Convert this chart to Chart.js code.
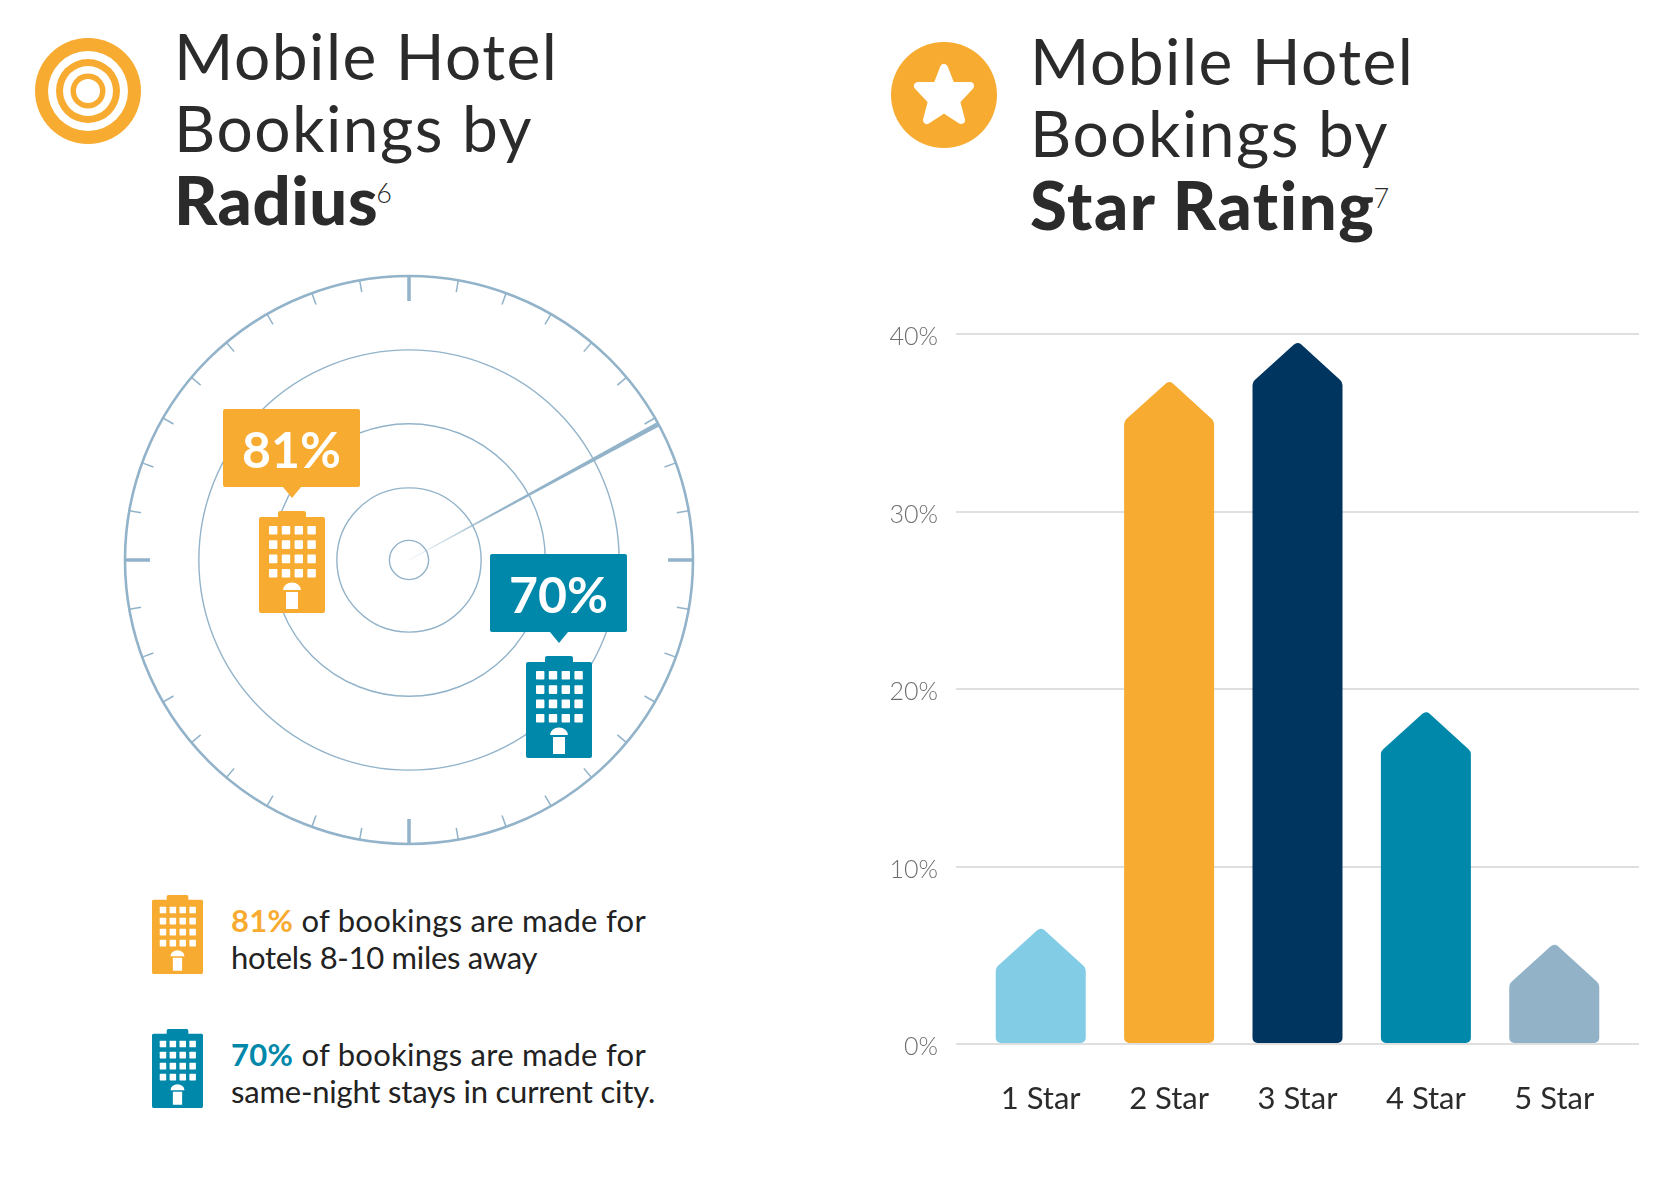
<!DOCTYPE html>
<html>
<head>
<meta charset="utf-8">
<title>Mobile Hotel Bookings</title>
<script src="https://cdn.jsdelivr.net/npm/chart.js@4"></script>
<style>
  html, body { margin: 0; background: #fff; }
  #page { position: relative; width: 1662px; height: 1192px; overflow: hidden; font-family: Lato, sans-serif; color: #2b2b2b; }
  #page > * { position: absolute; }
  .title { font-size: 64px; font-weight: 400; line-height: 72px; white-space: nowrap; letter-spacing: 1.5px; }
  .title b { font-size: 67px; font-weight: 900; letter-spacing: 1.2px; line-height: 0; position: relative; top: 1px; }
  .title b.tight { letter-spacing: 0.6px; }
  .title b.wide { letter-spacing: 1.6px; }
  .title sup { font-size: 27px; font-weight: 300; letter-spacing: 0; line-height: 0; vertical-align: baseline; position: relative; top: -21px; left: -2px; }
  .callout { width: 137px; height: 78px; border-radius: 2px; color: #fff; font-size: 50px; font-weight: 700; line-height: 81px; text-align: center; }
  .callout::after { content: ''; position: absolute; left: 50%; top: 100%; margin-left: -9px; border: 9px solid transparent; border-bottom-width: 0; border-top: 11px solid; border-top-color: inherit; }
  .orange { background: #f7ab31; border-color: #f7ab31; }
  .teal { background: #0088aa; border-color: #0088aa; }
  .note { font-size: 31px; font-weight: 400; line-height: 37px; white-space: nowrap; color: #222; }
  .note div { letter-spacing: 0.27px; }
  .note span { font-weight: 700; }
</style>
</head>
<body>
<div id="page">
  <svg width="0" height="0">
    <symbol id="hotel" viewBox="0 0 66 102">
      <path fill="currentColor" d="M21 0h24a2 2 0 0 1 2 2v4h17a2 2 0 0 1 2 2v92a2 2 0 0 1-2 2H2a2 2 0 0 1-2-2V8a2 2 0 0 1 2-2h17V2a2 2 0 0 1 2-2z"/>
      <g fill="#fff" id="hotelWindows"></g>
      <path fill="#fff" d="M24 79a9 7.5 0 0 1 18 0zM27 81h12v17H27z"/>
    </symbol>
  </svg>

  <svg style="left:34px;top:37px" width="108" height="108" viewBox="-54 -54 108 108">
    <circle r="53" fill="#f7ab31"/><circle r="40" fill="#fff"/><circle r="32" fill="#f7ab31"/>
    <circle r="25" fill="#fff"/><circle r="17.5" fill="#f7ab31"/><circle r="12" fill="#fff"/>
  </svg>
  <svg style="left:890px;top:41px" width="108" height="108" viewBox="-54 -54 108 108">
    <circle r="53" fill="#f7ab31"/>
    <polygon fill="#fff" stroke="#fff" stroke-width="8" stroke-linejoin="round"
      points="0,-27 7,-9 26,-9 12,6 17,25 0,14 -17,25 -12,6 -26,-9 -7,-9"/>
  </svg>

  <div class="title" style="left:174px;top:20px">Mobile Hotel<br>Bookings by<br><b class="tight">Radius</b><sup>6</sup></div>
  <div class="title" style="left:1030px;top:25px">Mobile Hotel<br>Bookings by<br><b class="wide">Star Rating</b><sup>7</sup></div>

  <canvas id="radiusChart" style="left:109px;top:260px;width:600px;height:600px"></canvas>
  <canvas id="starChart" style="left:880px;top:301px;width:782px;height:829px"></canvas>

  <div class="callout orange" style="left:223px;top:409px">81%</div>
  <svg style="left:259px;top:511px;color:#f7ab31" width="66" height="102"><use href="#hotel"/></svg>
  <div class="callout teal" style="left:490px;top:554px">70%</div>
  <svg style="left:526px;top:656px;color:#0088aa" width="66" height="102"><use href="#hotel"/></svg>

  <svg style="left:152px;top:895px;color:#f7ab31" width="51" height="79" viewBox="0 0 66 102"><use href="#hotel"/></svg>
  <div class="note" style="left:231px;top:902px">
    <div><span style="color:#f7ab31">81%</span> of bookings are made for</div>
    <div style="letter-spacing:-0.29px">hotels 8-10 miles away</div>
  </div>
  <svg style="left:152px;top:1029px;color:#0088aa" width="51" height="79" viewBox="0 0 66 102"><use href="#hotel"/></svg>
  <div class="note" style="left:231px;top:1036px">
    <div><span style="color:#0088aa">70%</span> of bookings are made for</div>
    <div style="letter-spacing:-0.2px">same-night stays in current city.</div>
  </div>
</div>

<script>
const starLabels = ['1 Star', '2 Star', '3 Star', '4 Star', '5 Star'];
const starShares = [6.6, 37.4, 39.6, 18.8, 5.7];
const starColors = ['#83cce6', '#f7ab31', '#00355f', '#0088aa', '#92b2c8'];
const ringValues = [0, 6.9, 25.4, 48, 74, 100];
const rimTickCount = 36;
const sweepAngle = 61.4;

// windows of the hotel icon
const hotelWindows = document.getElementById('hotelWindows');
for (let row = 0; row < 4; row++) {
  for (let col = 0; col < 4; col++) {
    const r = document.createElementNS('http://www.w3.org/2000/svg', 'rect');
    r.setAttribute('x', 10 + col * 12.8);
    r.setAttribute('y', 15 + row * 14.3);
    r.setAttribute('width', 8.4);
    r.setAttribute('height', 8.6);
    r.setAttribute('rx', 0.8);
    hotelWindows.appendChild(r);
  }
}

// Radius rings
const RIM = '#92b3c9';
const radarMarks = {
  id: 'radarMarks',
  afterDraw(chart) {
    const { ctx } = chart;
    const r = chart.scales.r;
    const cx = r.xCenter;
    const cy = r.yCenter;
    const rim = r.getDistanceFromCenterForValue(100);
    ctx.save();
    ctx.translate(cx, cy);
    ctx.strokeStyle = RIM;
    for (let i = 0; i < rimTickCount; i++) {
      const major = i % 9 === 0;
      ctx.save();
      ctx.rotate((i * 2 * Math.PI) / rimTickCount);
      ctx.lineWidth = major ? 3.5 : 1.5;
      ctx.beginPath();
      ctx.moveTo(0, -rim);
      ctx.lineTo(0, -rim + (major ? 25 : 12));
      ctx.stroke();
      ctx.restore();
    }
    // sweep line, thin at the centre and thick at the rim
    ctx.rotate((sweepAngle * Math.PI) / 180);
    const fade = ctx.createLinearGradient(0, 0, 0, -rim);
    fade.addColorStop(0, 'rgba(146,179,201,0.2)');
    fade.addColorStop(0.35, RIM);
    ctx.fillStyle = fade;
    ctx.beginPath();
    ctx.moveTo(-0.3, 0);
    ctx.lineTo(-2.4, -rim);
    ctx.lineTo(2.4, -rim);
    ctx.lineTo(0.3, 0);
    ctx.closePath();
    ctx.fill();
    ctx.restore();
  },
};

new Chart(document.getElementById('radiusChart'), {
  type: 'polarArea',
  data: { labels: [], datasets: [{ data: [] }] },
  plugins: [radarMarks],
  options: {
    responsive: false,
    animation: false,
    layout: { padding: 16 },
    plugins: { legend: { display: false }, tooltip: { enabled: false } },
    scales: {
      r: {
        min: 0,
        max: 100,
        afterBuildTicks: (scale) => {
          scale.ticks = ringValues.map((value) => ({ value }));
        },
        ticks: { display: false },
        angleLines: { display: false },
        grid: {
          circular: true,
          color: RIM,
          lineWidth: (c) => (c.tick.value === 100 ? 2.6 : 1.4),
        },
      },
    },
  },
});

// Arrow shaped bars
class ArrowBar extends Chart.BarElement {
  draw(ctx) {
    const { x, y, base, width } = this.getProps(['x', 'y', 'base', 'width']);
    const hw = width / 2;
    const shoulder = y + 41;
    ctx.save();
    ctx.fillStyle = this.options.backgroundColor;
    ctx.beginPath();
    ctx.moveTo(x - 3, y + 3);
    ctx.arcTo(x, y, x + hw, shoulder, 5);
    ctx.arcTo(x + hw, shoulder, x + hw, base, 7);
    ctx.arcTo(x + hw, base, x - hw, base, 5);
    ctx.arcTo(x - hw, base, x - hw, shoulder, 5);
    ctx.arcTo(x - hw, shoulder, x, y, 7);
    ctx.closePath();
    ctx.fill();
    ctx.restore();
  }
}
ArrowBar.id = 'arrowBar';
ArrowBar.defaults = Chart.BarElement.defaults;

class ArrowBarController extends Chart.BarController {}
ArrowBarController.id = 'arrowBar';
ArrowBarController.defaults = { ...Chart.BarController.defaults, dataElementType: 'arrowBar' };

Chart.register(ArrowBar, ArrowBarController);

new Chart(document.getElementById('starChart'), {
  type: 'arrowBar',
  data: {
    datasets: [
      {
        data: starLabels.map((_, i) => ({ x: i + 1, y: starShares[i] })),
        backgroundColor: starColors,
        barThickness: 90,
      },
    ],
  },
  options: {
    responsive: false,
    animation: false,
    layout: { padding: { top: 24, right: 23 } },
    plugins: { legend: { display: false }, tooltip: { enabled: false } },
    scales: {
      x: {
        type: 'linear',
        offset: false,
        min: 0.34,
        max: 5.66,
        afterFit: (scale) => {
          scale.height = 86;
        },
        grid: { display: false, offset: false },
        border: { display: false },
        ticks: {
          stepSize: 1,
          includeBounds: false,
          autoSkip: false,
          maxRotation: 0,
          padding: 28,
          color: '#2b2b2b',
          font: { family: 'Lato', size: 31, weight: '400' },
          callback: (v) => starLabels[v - 1],
        },
      },
      y: {
        min: 0,
        max: 40,
        afterFit: (scale) => {
          scale.width = 76;
        },
        border: { display: false },
        grid: { color: '#dfdfdf', lineWidth: 2, drawTicks: false },
        ticks: {
          stepSize: 10,
          padding: 18,
          labelOffset: 3,
          color: '#6f6f6f',
          font: { family: 'Lato', size: 25, weight: '300' },
          callback: (v) => v + '%',
        },
      },
    },
  },
});
</script>
</body>
</html>
